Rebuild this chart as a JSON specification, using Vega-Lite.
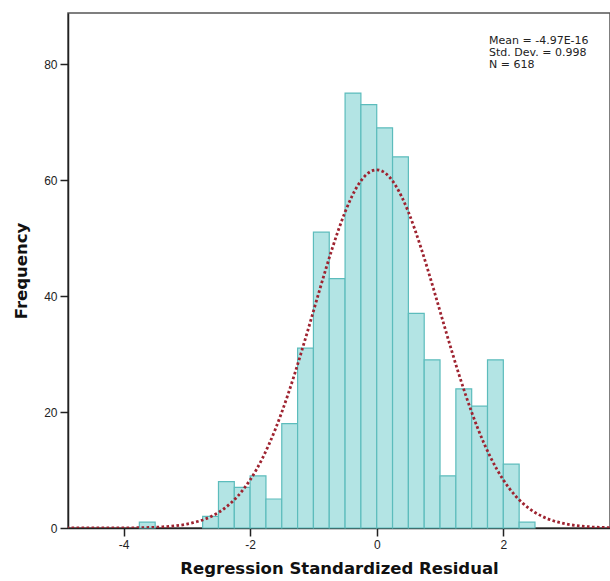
{
  "$schema": "https://vega.github.io/schema/vega-lite/v6.json",
  "width": 542,
  "height": 515,
  "autosize": "none",
  "padding": {"left": 68, "top": 13, "right": 0, "bottom": 53},
  "background": "white",
  "config": {
    "view": {"stroke": "#555", "strokeWidth": 1.5},
    "axis": {
      "grid": false,
      "labelFont": "Liberation Sans",
      "labelFontSize": 12,
      "labelColor": "#222",
      "tickColor": "#222",
      "domainColor": "#222",
      "domainWidth": 1.5,
      "tickSize": 8,
      "tickWidth": 1.5,
      "labelPadding": 3,
      "titleFont": "DejaVu Sans",
      "titleFontWeight": "bold",
      "titleFontSize": 16.5,
      "titleColor": "#111"
    }
  },
  "datasets": {
    "bins": [
      {"bin_start": -3.75, "bin_end": -3.5, "count": 1},
      {"bin_start": -2.75, "bin_end": -2.5, "count": 2},
      {"bin_start": -2.5, "bin_end": -2.25, "count": 8},
      {"bin_start": -2.25, "bin_end": -2.0, "count": 7},
      {"bin_start": -2.0, "bin_end": -1.75, "count": 9},
      {"bin_start": -1.75, "bin_end": -1.5, "count": 5},
      {"bin_start": -1.5, "bin_end": -1.25, "count": 18},
      {"bin_start": -1.25, "bin_end": -1.0, "count": 31},
      {"bin_start": -1.0, "bin_end": -0.75, "count": 51},
      {"bin_start": -0.75, "bin_end": -0.5, "count": 43},
      {"bin_start": -0.5, "bin_end": -0.25, "count": 75},
      {"bin_start": -0.25, "bin_end": 0.0, "count": 73},
      {"bin_start": 0.0, "bin_end": 0.25, "count": 69},
      {"bin_start": 0.25, "bin_end": 0.5, "count": 64},
      {"bin_start": 0.5, "bin_end": 0.75, "count": 37},
      {"bin_start": 0.75, "bin_end": 1.0, "count": 29},
      {"bin_start": 1.0, "bin_end": 1.25, "count": 9},
      {"bin_start": 1.25, "bin_end": 1.5, "count": 24},
      {"bin_start": 1.5, "bin_end": 1.75, "count": 21},
      {"bin_start": 1.75, "bin_end": 2.0, "count": 29},
      {"bin_start": 2.0, "bin_end": 2.25, "count": 11},
      {"bin_start": 2.25, "bin_end": 2.5, "count": 1}
    ],
    "curve": [
      {"x": -4.9, "y": 0.0}, {"x": -4.5, "y": 0.0}, {"x": -4.2, "y": 0.01}, {"x": -4.0, "y": 0.02},
      {"x": -3.8, "y": 0.04}, {"x": -3.6, "y": 0.09}, {"x": -3.4, "y": 0.19}, {"x": -3.2, "y": 0.36},
      {"x": -3.0, "y": 0.67}, {"x": -2.9, "y": 0.91}, {"x": -2.8, "y": 1.21}, {"x": -2.7, "y": 1.59},
      {"x": -2.6, "y": 2.08}, {"x": -2.5, "y": 2.68}, {"x": -2.4, "y": 3.43}, {"x": -2.3, "y": 4.34},
      {"x": -2.2, "y": 5.44}, {"x": -2.1, "y": 6.75}, {"x": -2.0, "y": 8.29}, {"x": -1.9, "y": 10.08},
      {"x": -1.8, "y": 12.14}, {"x": -1.7, "y": 14.47}, {"x": -1.6, "y": 17.08}, {"x": -1.5, "y": 19.96},
      {"x": -1.4, "y": 23.09}, {"x": -1.3, "y": 26.44}, {"x": -1.2, "y": 29.98}, {"x": -1.1, "y": 33.64},
      {"x": -1.0, "y": 37.38}, {"x": -0.9, "y": 41.13}, {"x": -0.8, "y": 44.79}, {"x": -0.7, "y": 48.29},
      {"x": -0.6, "y": 51.55}, {"x": -0.5, "y": 54.48}, {"x": -0.4, "y": 56.99}, {"x": -0.3, "y": 59.03},
      {"x": -0.2, "y": 60.53}, {"x": -0.1, "y": 61.45}, {"x": 0.0, "y": 61.76}, {"x": 0.1, "y": 61.45},
      {"x": 0.2, "y": 60.53}, {"x": 0.3, "y": 59.03}, {"x": 0.4, "y": 56.99}, {"x": 0.5, "y": 54.48},
      {"x": 0.6, "y": 51.55}, {"x": 0.7, "y": 48.29}, {"x": 0.8, "y": 44.79}, {"x": 0.9, "y": 41.13},
      {"x": 1.0, "y": 37.38}, {"x": 1.1, "y": 33.64}, {"x": 1.2, "y": 29.98}, {"x": 1.3, "y": 26.44},
      {"x": 1.4, "y": 23.09}, {"x": 1.5, "y": 19.96}, {"x": 1.6, "y": 17.08}, {"x": 1.7, "y": 14.47},
      {"x": 1.8, "y": 12.14}, {"x": 1.9, "y": 10.08}, {"x": 2.0, "y": 8.29}, {"x": 2.1, "y": 6.75},
      {"x": 2.2, "y": 5.44}, {"x": 2.3, "y": 4.34}, {"x": 2.4, "y": 3.43}, {"x": 2.5, "y": 2.68},
      {"x": 2.6, "y": 2.08}, {"x": 2.7, "y": 1.59}, {"x": 2.8, "y": 1.21}, {"x": 2.9, "y": 0.91},
      {"x": 3.0, "y": 0.67}, {"x": 3.2, "y": 0.36}, {"x": 3.4, "y": 0.19}, {"x": 3.6, "y": 0.09},
      {"x": 3.7, "y": 0.06}
    ]
  },
  "layer": [
    {
      "data": {"name": "bins"},
      "mark": {"type": "rect", "fill": "#b3e4e4", "stroke": "#5cbcbc", "strokeWidth": 1.2},
      "encoding": {
        "x": {
          "field": "bin_start", "type": "quantitative",
          "scale": {"domain": [-4.877, 3.685], "nice": false, "zero": false},
          "axis": {"values": [-4, -2, 0, 2], "labelExpr": "'' + datum.value", "title": "Regression Standardized Residual", "titlePadding": 10}
        },
        "x2": {"field": "bin_end"},
        "y": {
          "field": "count", "type": "quantitative",
          "scale": {"domain": [0, 88.8], "nice": false},
          "axis": {"values": [0, 20, 40, 60, 80], "labelExpr": "'' + datum.value", "title": "Frequency", "titlePadding": 14}
        },
        "y2": {"datum": 0}
      }
    },
    {
      "data": {"name": "curve"},
      "mark": {"type": "line", "stroke": "#9e2330", "strokeWidth": 2.8, "strokeDash": [2.6, 2.4], "interpolate": "monotone", "clip": true},
      "encoding": {
        "x": {"field": "x", "type": "quantitative"},
        "y": {"field": "y", "type": "quantitative"}
      }
    },
    {
      "data": {"values": [{}]},
      "mark": {
        "type": "text",
        "text": ["Mean = -4.97E-16", "Std. Dev. = 0.998", "N = 618"],
        "font": "DejaVu Sans", "fontSize": 11, "lineHeight": 12,
        "align": "left", "baseline": "top", "color": "#222"
      },
      "encoding": {
        "x": {"datum": 1.774},
        "y": {"datum": 85.0}
      }
    }
  ]
}
